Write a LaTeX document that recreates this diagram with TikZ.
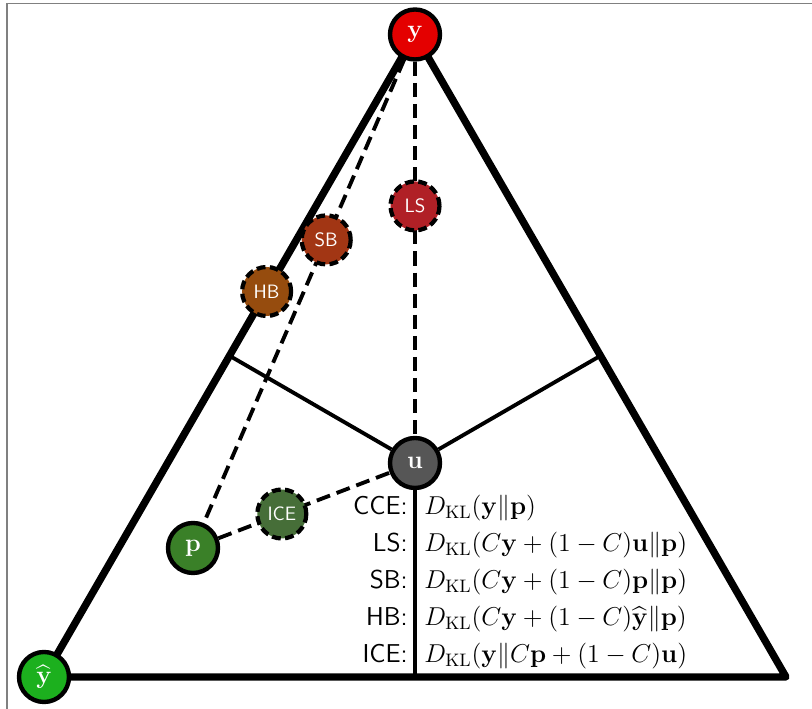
\documentclass[tikz,border=0pt]{standalone}
\usepackage{fix-cm}
\usepackage{amsmath}
\usepackage{amssymb}
\usepackage{tikz}
\usetikzlibrary{calc,positioning,backgrounds}

\definecolor{truered}{RGB}{228,0,0}
\definecolor{predgreen}{RGB}{28,176,30}
\definecolor{probgreen}{RGB}{58,128,40}
\definecolor{icegreen}{RGB}{70,110,56}
\definecolor{unigray}{RGB}{86,86,86}
\definecolor{lsred}{RGB}{176,32,38}
\definecolor{sbrust}{RGB}{162,54,20}
\definecolor{hbbrown}{RGB}{150,76,14}

\tikzset{
  vertex/.style={circle, draw, line width=2.5pt, minimum size=1.0cm, inner sep=0pt,
    text=white, font=\Large},
  method/.style={circle, draw, line width=2.4pt, dash pattern=on 5pt off 2.5pt,
    minimum size=0.98cm, inner sep=0pt, text=white, font=\sffamily\fontsize{11}{13}\selectfont},
  rim/.style={line width=4.2pt, line join=round},
  bisect/.style={line width=2.2pt},
  mix/.style={line width=2.2pt, dash pattern=on 8pt off 4pt},
  lbl/.style={inner sep=0pt, font=\sffamily\fontsize{14.7}{17}\selectfont},
  loss/.style={inner sep=0pt, font=\fontsize{14.7}{17}\selectfont}
}

\begin{document}
\begin{tikzpicture}
    \useasboundingbox (0,0) rectangle (16.24,14.18);
    % corners of the simplex
    \node[vertex, fill=predgreen] (yh) at (0.88,0.64) {$\widehat{\mathbf{y}}$};
    \node[vertex, fill=truered] (y) at (8.30,13.49) {$\mathbf{y}$};
    \coordinate (br) at (15.72,0.64);
    \node[vertex, fill=unigray] (u) at (8.30,4.92) {$\mathbf{u}$};
    \node[vertex, fill=probgreen] (p) at (3.86,3.22) {$\mathbf{p}$};
    % targets of the methods
    \node[method, fill=lsred] (ls) at ($(y)!0.4!(u)$) {LS};
    \node[method, fill=sbrust] (sb) at ($(y)!0.4!(p)$) {SB};
    \node[method, fill=hbbrown] (hb) at ($(y)!0.4!(yh)$) {HB};
    \node[method, fill=icegreen] (ice) at ($(p)!0.4!(u)$) {ICE};
    \coordinate (ml) at ($(yh)!0.5!(y)$);
    \coordinate (mr) at ($(y)!0.5!(br)$);
    \coordinate (mb) at ($(yh)!0.5!(br)$);
    % losses
    \node[lbl, anchor=base east] (lcce) at (8.16,3.88) {CCE:};
    \node[lbl, below=0.74cm of lcce.base east, anchor=base east] (lls) {LS:};
    \node[lbl, below=0.74cm of lls.base east, anchor=base east] (lsb) {SB:};
    \node[lbl, below=0.74cm of lsb.base east, anchor=base east] (lhb) {HB:};
    \node[lbl, below=0.74cm of lhb.base east, anchor=base east] (lice) {ICE:};
    \node[loss, base right=0.32cm of lcce] (fcce) {$D_{\mathrm{KL}}(\mathbf{y}\|\mathbf{p})$};
    \node[loss, base right=0.32cm of lls] (fls) {$D_{\mathrm{KL}}(C\mathbf{y}+(1-C)\mathbf{u}\|\mathbf{p})$};
    \node[loss, base right=0.32cm of lsb] (fsb) {$D_{\mathrm{KL}}(C\mathbf{y}+(1-C)\mathbf{p}\|\mathbf{p})$};
    \node[loss, base right=0.32cm of lhb] (fhb) {$D_{\mathrm{KL}}(C\mathbf{y}+(1-C)\widehat{\mathbf{y}}\|\mathbf{p})$};
    \node[loss, base right=0.32cm of lice] (fice) {$D_{\mathrm{KL}}(\mathbf{y}\|C\mathbf{p}+(1-C)\mathbf{u})$};
    \begin{scope}[on background layer]
      \draw[gray, line width=1.1pt] (0.14,0) -- (0.14,14.11) -- (16.24,14.11);
      \draw[rim] (yh.center) -- (y.center) -- (br) -- cycle;
      \path[bisect]
      (u) edge (ml)
      (u) edge (mr)
      (u) edge (mb)
      ;
      \path[mix]
      (y) edge (p)
      (y) edge (u)
      (p) edge (u)
      ;
    \end{scope}
\end{tikzpicture}
\end{document}
